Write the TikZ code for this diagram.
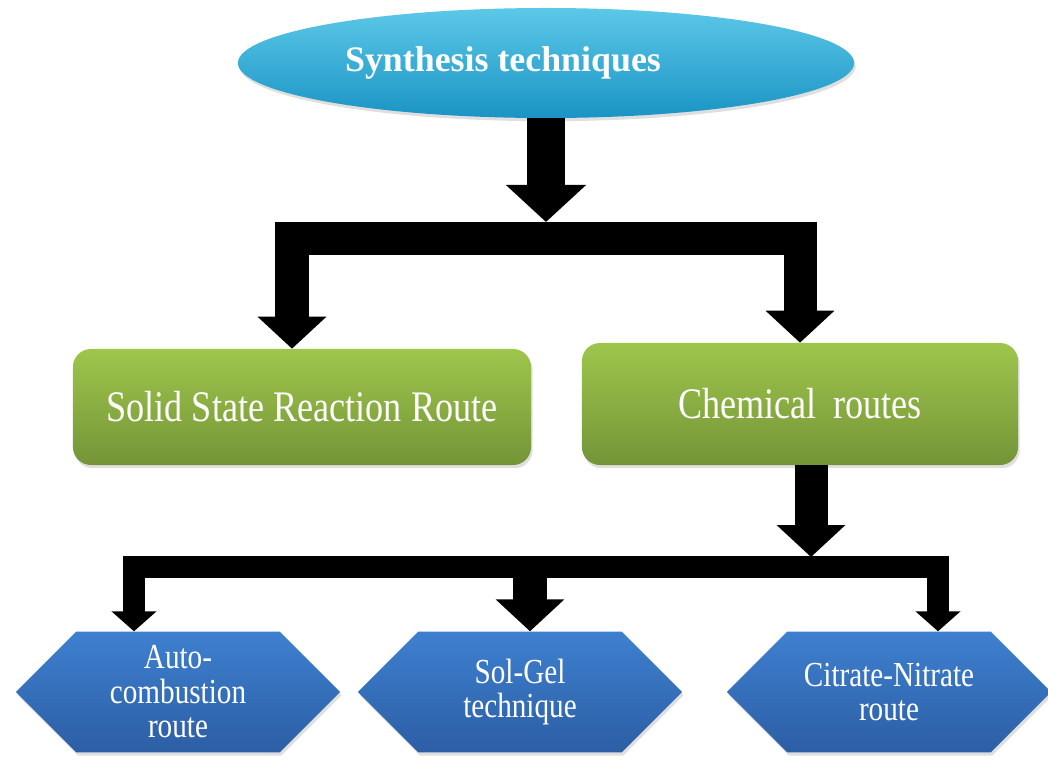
\documentclass[tikz,border=0pt]{standalone}
\usepackage{fontspec}
\setmainfont{Liberation Serif}
\newfontfamily\narrowfont[FakeStretch=0.83]{Liberation Serif}
\usetikzlibrary{arrows.meta}
\usetikzlibrary{shapes.geometric}
\usetikzlibrary{shapes.symbols}
\usetikzlibrary{shadows}
\usetikzlibrary{calc}

\definecolor{topcyan}{RGB}{92,200,232}
\definecolor{botcyan}{RGB}{26,148,196}
\definecolor{topgreen}{RGB}{158,198,76}
\definecolor{botgreen}{RGB}{116,148,55}
\definecolor{topblue}{RGB}{62,128,208}
\definecolor{botblue}{RGB}{44,94,164}

\tikzset{
	softshadow/.style={drop shadow={opacity=0.25,shadow xshift=0.04cm,shadow yshift=-0.08cm}},
	topic/.style={ellipse,minimum width=15.4cm,minimum height=2.75cm,top color=topcyan,bottom color=botcyan,text=white,font=\bfseries\fontsize{25.5}{30}\selectfont,softshadow},
	routebox/.style={rounded corners=0.45cm,top color=topgreen,bottom color=botgreen,text=white,font=\narrowfont\fontsize{31}{34}\selectfont,softshadow},
	methodhex/.style={signal,signal to=east and west,signal pointer angle=90,minimum width=8.1cm,minimum height=3.02cm,top color=topblue,bottom color=botblue,text=white,align=center,font=\narrowfont\fontsize{25}{24.5}\selectfont,softshadow},
	thickarrow/.style={line width=0.95cm,-{Triangle[width=1.95cm,length=0.925cm]}},
	midarrow/.style={line width=0.825cm,-{Triangle[width=1.675cm,length=0.8cm]}},
	thinarrow/.style={line width=0.55cm,-{Triangle[width=1.1cm,length=0.5cm]}}
}

\begin{document}
\begin{tikzpicture}[x=0.025cm,y=-0.025cm]
	\useasboundingbox (0,0) rectangle (1048,759);
	% boxes
	\node[topic] (synth) at (546,63) {\raisebox{2pt}{Synthesis techniques}\kern 2.15cm};
	\node[routebox,minimum width=11.45cm,minimum height=2.9cm] (solid) at (302,407) {Solid State Reaction Route};
	\node[routebox,minimum width=10.9cm,minimum height=3.05cm] (chem) at (800,404) {Chemical \,routes};
	\node[methodhex] (auto) at (178,692) {Auto-\\combustion\\route};
	\node[methodhex] (sol) at (520,692) {Sol-Gel\\technique};
	\node[methodhex] (citr) at (889,692) {Citrate-Nitrate\\route};
	% first split
	\coordinate (split1) at (546,222);
	\coordinate (bar1) at (546,238);
	\draw[thickarrow] (synth.south) -- (split1);
	\draw[midarrow] (bar1) -| ($(solid.north)+(-10,0)$);
	\draw[midarrow] (bar1) -| (chem.north);
	% second split
	\coordinate (split2) at (811,557);
	\coordinate (bar2) at (811,567);
	\draw[midarrow] ($(chem.south)+(11,0)$) -- (split2);
	\draw[thinarrow] (bar2) -| ($(auto.north)+(-44,0)$);
	\draw[thinarrow] (bar2) -| ($(citr.north)+(49,0)$);
	\draw[midarrow] ($(sol.north |- bar2)+(10,0)$) -- ($(sol.north)+(10,0)$);
\end{tikzpicture}
\end{document}
